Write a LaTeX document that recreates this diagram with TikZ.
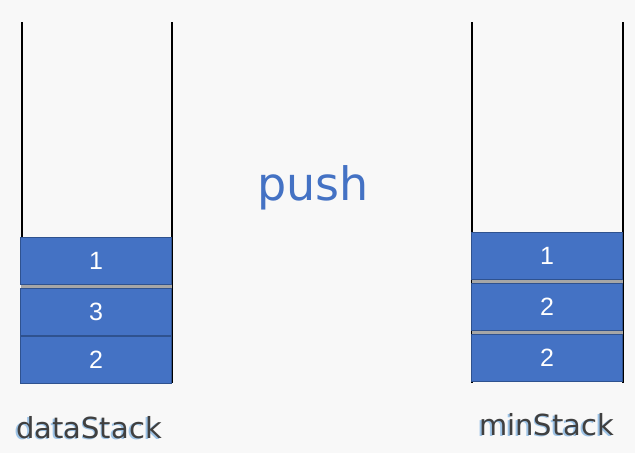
\documentclass[tikz,border=0pt]{standalone}
\usepackage{fontspec}
\setmainfont{Liberation Sans}
\newfontfamily\labelfont{DejaVu Sans}
\definecolor{bg}{HTML}{F8F8F8}
\definecolor{boxfill}{HTML}{4472C4}
\definecolor{boxline}{HTML}{2F528F}
\definecolor{pushblue}{HTML}{4472C4}
\definecolor{labelgray}{HTML}{404040}
\definecolor{shadowblue}{HTML}{9DC3E6}
\definecolor{gapgray}{HTML}{A6A6A6}
\newcommand{\shadowtext}[1]{\makebox[0pt][l]{\hspace{-1.5pt}\raisebox{-1.5pt}{\color{shadowblue}#1}}#1}
\begin{document}
\begin{tikzpicture}[x=1pt,y=-1pt,
  wall/.style={line width=2pt,black},
  cell/.style={draw=boxline,fill=boxfill,line width=0.8pt,minimum width=151pt,minimum height=47pt,inner sep=0pt,text=white,font=\fontsize{25}{25}\selectfont},
  lbl/.style={font=\labelfont\fontsize{29}{29}\selectfont,text=labelgray,inner sep=0pt}]
\fill[bg] (0,0) rectangle (635,453);
\useasboundingbox (0,0) rectangle (635,453);
% left stack walls
\coordinate (lt) at (22,22); \coordinate (lb) at (22,383);
\coordinate (rt) at (172,22); \coordinate (rb) at (172,383);
\draw[wall] (lt) -- (lb);
\draw[wall] (rt) -- (rb);
% right stack walls
\coordinate (mlt) at (472,22); \coordinate (mlb) at (472,383);
\coordinate (mrt) at (623,22); \coordinate (mrb) at (623,383);
\draw[wall] (mlt) -- (mlb);
\draw[wall] (mrt) -- (mrb);
% gaps between cells
\fill[gapgray] (21,284) rectangle (172,289);
\fill[gapgray] (21,333) rectangle (172,338);
\fill[gapgray] (472,279) rectangle (623,284);
\fill[gapgray] (472,330) rectangle (623,335);
% left cells
\node[cell] (d1) at (96,261) {1};
\node[cell] (d2) at (96,311.5) {3};
\node[cell] (d3) at (96,360) {2};
% right cells
\node[cell] (m1) at (547,256) {1};
\node[cell] (m2) at (547,306.5) {2};
\node[cell] (m3) at (547,358) {2};
% labels
\node[lbl] (dl) at (89,428) {\shadowtext{dataStack}};
\node[lbl] (ml) at (546.5,425) {\shadowtext{minStack}};
\node[font=\labelfont\fontsize{46}{46}\selectfont,text=pushblue,inner sep=0pt] (push) at (313,188) {push};
\end{tikzpicture}
\end{document}
